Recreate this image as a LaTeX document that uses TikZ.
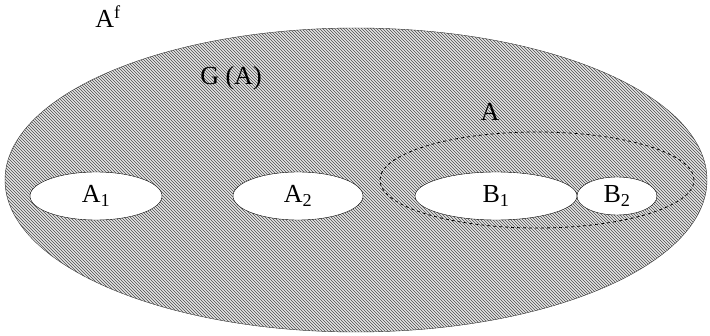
\documentclass[tikz,border=0pt]{standalone}
\usepackage{fontspec}
\setmainfont{Liberation Serif}
\usetikzlibrary{shapes.geometric,patterns}

\begin{document}
\begin{tikzpicture}[x=1pt, y=-1pt,
  label font/.style={font=\fontsize{26}{30}\selectfont},
  region/.style={draw, ellipse, inner sep=0pt, label font},
  hole/.style={region, fill=white}]

\useasboundingbox (0,0) rectangle (710,336);

% Define the regions with coordinates
\node[region, minimum width=702, minimum height=304, draw=black!80,
      preaction={fill=gray!20}, pattern=north west lines,
      pattern color=gray!60!black] (GA) at (356,180) {};
\node[region, dashed, thick, minimum width=314, minimum height=96] (A) at (537,180) {};
\node[hole, minimum width=132, minimum height=48] (A1) at (96,196) {A\textsubscript{1}};
\node[hole, minimum width=130, minimum height=48] (A2) at (298,196) {A\textsubscript{2}};
\node[hole, minimum width=162, minimum height=48] (B1) at (496,196) {B\textsubscript{1}};
\node[hole, minimum width=80, minimum height=38] (B2) at (617,196) {B\textsubscript{2}};

% Names of the sets
\node[label font] (Af) at (108,17) {A\textsuperscript{f}};
\node[label font] (GAname) at (231,78) {G (A)};
\node[label font] (Aname) at (490,112) {A};

\end{tikzpicture}
\end{document}
